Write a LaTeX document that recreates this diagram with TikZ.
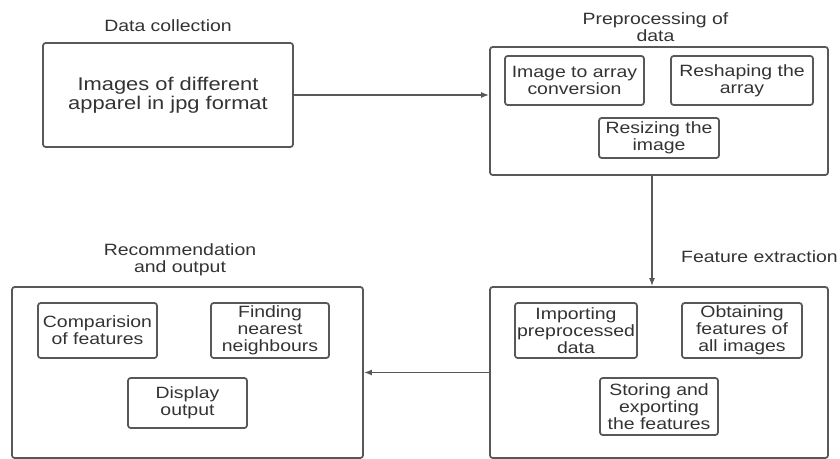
\documentclass[tikz,border=0pt]{standalone}
\usepackage{fontspec}
\setmainfont[FakeStretch=1.19]{Liberation Sans}
\usetikzlibrary{positioning}
\usetikzlibrary{arrows.meta}
\definecolor{edgegray}{HTML}{585858}
\definecolor{textgray}{HTML}{333333}
\tikzset{
   stage/.style 2 args={draw=edgegray, line width=1.3pt, rounded corners=2pt,
      minimum width=#1*0.75pt, minimum height=#2*0.75pt, inner sep=0pt,
      align=center, text=textgray, font=\fontsize{12.25}{12.75}\selectfont},
   caption/.style={inner sep=0pt, align=center, text=textgray, anchor=north,
      font=\fontsize{12.25}{12.75}\selectfont},
   flow/.style={draw=edgegray, line width=1.2pt, -{Latex[length=6pt,width=4.5pt]}}
}

\begin{document}
\begin{tikzpicture}[x=0.75pt, y=-0.75pt]
      \useasboundingbox (0,0) rectangle (840,459);

      \node[stage={250}{104}, font=\fontsize{13.8}{14.25}\selectfont] (dc) at (168,95)
         {Images of different\\apparel in jpg format};
      \node[stage={338}{128}] (pp) at (659,111) {};
      \node[stage={338}{171}] (fe) at (659,372.5) {};
      \node[stage={351}{171}] (ro) at (187.5,372.5) {};

      \node[caption] (dcl) at (168,19.3) {Data collection};
      \node[caption] (ppl) at (655.5,12.3) {Preprocessing of\\data};
      \node[caption] (fel) at (759.5,250.7) {Feature extraction};
      \node[caption] (rol) at (180,243.3) {Recommendation\\and output};

      \node[stage={139}{49}] (pp1) at (574.5,80.5) {Image to array\\conversion};
      \node[stage={142}{49}] (pp2) at (742,80.5) {Reshaping the\\array};
      \node[stage={120}{40}] (pp3) at (659,138) {Resizing the\\image};

      \node[stage={122}{55}] (fe1) at (576,330.5) {Importing\\preprocessed\\data};
      \node[stage={120}{55}] (fe2) at (742,330.5) {Obtaining\\features of\\all images};
      \node[stage={118}{57}] (fe3) at (659,406.5) {Storing and\\exporting\\the features};

      \node[stage={119}{55}] (ro1) at (97.5,330.5) {Comparision\\of features};
      \node[stage={118}{55}] (ro2) at (270,330.5) {Finding\\nearest\\neighbours};
      \node[stage={119}{50}] (ro3) at (187.5,403) {Display\\output};

      \draw[flow] (dc.east) -- (dc.east -| pp.west);
      \draw[flow] ([xshift=-5.25pt]pp.south) -- ([xshift=-5.25pt]fe.north);
      \draw[flow] (fe.west) -- (ro.east);
   \end{tikzpicture}
\end{document}
